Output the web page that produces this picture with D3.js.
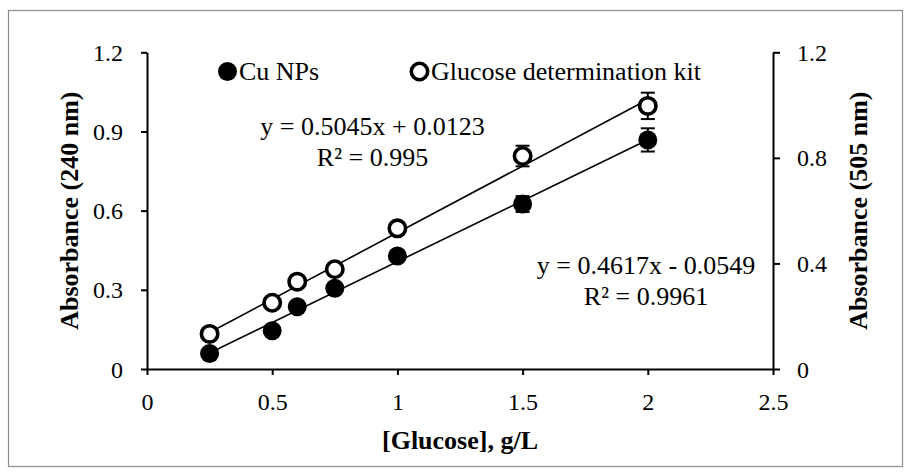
<!DOCTYPE html>
<html><head><meta charset="utf-8">
<script src="https://cdn.jsdelivr.net/npm/d3@7"></script>
<style>
html,body{margin:0;padding:0;background:#fff;}
svg{display:block;}
text{font-family:"Liberation Serif","Times New Roman",serif;fill:#000;}
</style></head>
<body>
<svg id="chart" width="911" height="475"></svg>
<script>
// ---- data ----
const concentrations = [0.25, 0.5, 0.6, 0.75, 1.0, 1.5, 2.0];
const cuNPs = [0.059, 0.145, 0.236, 0.306, 0.428, 0.625, 0.868];
const cuNPsErr = [0.01, 0.01, 0.01, 0.012, 0.012, 0.03, 0.044];
const kit = [0.133, 0.251, 0.331, 0.378, 0.533, 0.807, 0.997];
const kitErr = [0.01, 0.01, 0.01, 0.012, 0.012, 0.039, 0.05];
const seriesNames = ["Cu NPs", "Glucose determination kit"];
const fitSlopes = [0.4617, 0.5045];
const fitIntercepts = [-0.0549, 0.0123];
const fitLabels = [["y = 0.4617x - 0.0549", "R² = 0.9961"], ["y = 0.5045x + 0.0123", "R² = 0.995"]];
const xTicks = [0, 0.5, 1, 1.5, 2, 2.5];
const yLeftTicks = [0, 0.3, 0.6, 0.9, 1.2];
const yRightTicks = [0, 0.4, 0.8, 1.2];
const xTitle = "[Glucose], g/L";
const yLeftTitle = "Absorbance (240 nm)";
const yRightTitle = "Absorbance (505 nm)";

// ---- layout ----
const svg = d3.select("#chart");
const L = 147, R = 773, T = 52.3, B = 369;
const x = d3.scaleLinear().domain([0, 2.5]).range([L, R]);
const yL = d3.scaleLinear().domain([0, 1.2]).range([B, T]);
const yR = d3.scaleLinear().domain([0, 1.2]).range([B, T]);

// outer border
svg.append("rect").attr("x", 8.5).attr("y", 10.5).attr("width", 894).attr("height", 456)
  .attr("fill", "none").attr("stroke", "#8c8c8c").attr("stroke-width", 1.2);

const fmt = d => d === 0 ? "0" : String(d);

// x axis
const gx = svg.append("g").attr("transform", `translate(0,${B})`)
  .call(d3.axisBottom(x).tickValues(xTicks).tickFormat(fmt).tickSize(6).tickSizeOuter(0));
gx.selectAll("text").attr("y", 41).attr("dy", 0).style("font-size", "24px");

// left axis
const gl = svg.append("g").attr("transform", `translate(${L},0)`)
  .call(d3.axisLeft(yL).tickValues(yLeftTicks).tickFormat(fmt).tickSize(6).tickSizeOuter(0));
gl.selectAll("text").attr("x", -24).attr("dy", 8).style("font-size", "24px");

// right axis
const gr = svg.append("g").attr("transform", `translate(${R},0)`)
  .call(d3.axisRight(yR).tickValues(yRightTicks).tickFormat(fmt).tickSize(7).tickSizeOuter(0));
gr.selectAll("text").attr("x", 24).attr("dy", 8).style("font-size", "24px");

svg.selectAll(".domain, .tick line").attr("stroke", "#000").attr("stroke-width", 2);
svg.selectAll(".tick text").attr("font-family", null);

// axis titles
svg.append("text").attr("x", (L + R) / 2).attr("y", 449).attr("text-anchor", "middle")
  .style("font-size", "26px").style("font-weight", "bold").text(xTitle);
svg.append("text").attr("transform", `translate(78,${(T + B) / 2}) rotate(-90)`).attr("text-anchor", "middle")
  .style("font-size", "26px").style("font-weight", "bold").text(yLeftTitle);
svg.append("text").attr("transform", `translate(867,${(T + B) / 2}) rotate(-90)`).attr("text-anchor", "middle")
  .style("font-size", "26px").style("font-weight", "bold").text(yRightTitle);

// trendlines
const xmin = d3.min(concentrations), xmax = d3.max(concentrations);
[0, 1].forEach(i => {
  const ys = i === 0 ? yL : yR;
  svg.append("line")
    .attr("x1", x(xmin)).attr("y1", ys(fitSlopes[i] * xmin + fitIntercepts[i]))
    .attr("x2", x(xmax)).attr("y2", ys(fitSlopes[i] * xmax + fitIntercepts[i]))
    .attr("stroke", "#000").attr("stroke-width", 1.6);
});

// error bars
function errorBars(vals, errs, ys) {
  const g = svg.append("g").attr("stroke", "#000").attr("stroke-width", 2);
  concentrations.forEach((c, i) => {
    const cx = x(c), y1 = ys(vals[i] + errs[i]), y2 = ys(vals[i] - errs[i]);
    g.append("line").attr("x1", cx).attr("x2", cx).attr("y1", y1).attr("y2", y2);
    g.append("line").attr("x1", cx - 7).attr("x2", cx + 7).attr("y1", y1).attr("y2", y1);
    g.append("line").attr("x1", cx - 7).attr("x2", cx + 7).attr("y1", y2).attr("y2", y2);
  });
}
errorBars(cuNPs, cuNPsErr, yL);
errorBars(kit, kitErr, yR);

// markers
svg.append("g").selectAll("circle").data(concentrations).join("circle")
  .attr("cx", d => x(d)).attr("cy", (d, i) => yL(cuNPs[i])).attr("r", 9.5).attr("fill", "#000");
svg.append("g").selectAll("circle").data(concentrations).join("circle")
  .attr("cx", d => x(d)).attr("cy", (d, i) => yR(kit[i])).attr("r", 8.2)
  .attr("fill", "#fff").attr("stroke", "#000").attr("stroke-width", 3.6);

// legend
svg.append("circle").attr("cx", 227.5).attr("cy", 71.5).attr("r", 9.5).attr("fill", "#000");
svg.append("text").attr("x", 239).attr("y", 80).style("font-size", "26px").text(seriesNames[0]);
svg.append("circle").attr("cx", 419.5).attr("cy", 71.5).attr("r", 8.2)
  .attr("fill", "#fff").attr("stroke", "#000").attr("stroke-width", 3.6);
svg.append("text").attr("x", 431).attr("y", 80).style("font-size", "26px").text(seriesNames[1]);

// equation labels
const eqPos = [[646, 274], [372.5, 134.5]];
[0, 1].forEach(i => {
  const t = svg.append("text").attr("text-anchor", "middle").style("font-size", "26px");
  t.append("tspan").attr("x", eqPos[i][0]).attr("y", eqPos[i][1]).text(fitLabels[i][0]);
  t.append("tspan").attr("x", eqPos[i][0]).attr("y", eqPos[i][1] + 31).text(fitLabels[i][1]);
});
</script>
</body></html>
